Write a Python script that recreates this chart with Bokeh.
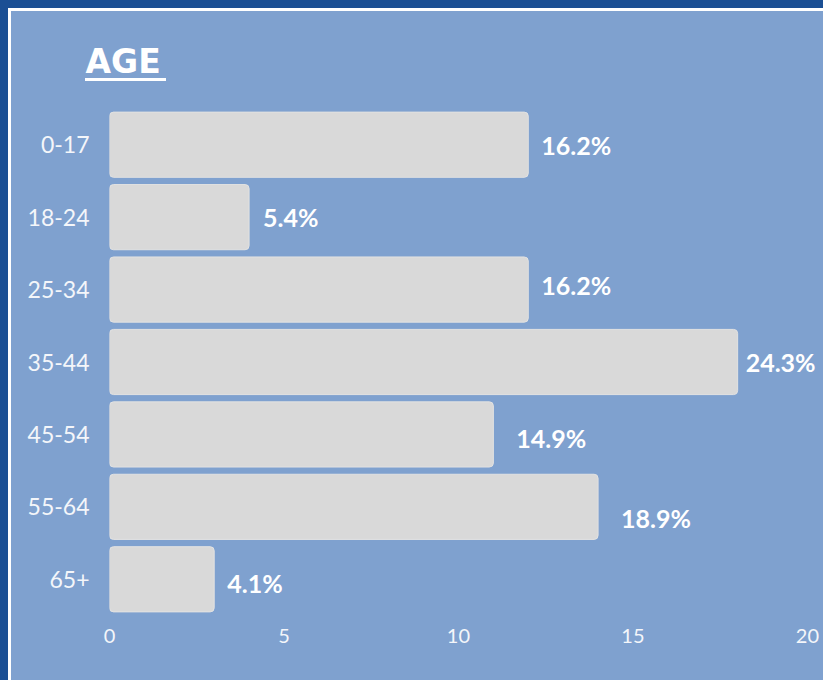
from bokeh.plotting import figure
from bokeh.models import (ColumnDataSource, FactorRange, Range1d, FixedTicker,
                          GlobalInlineStyleSheet)
from bokeh.core.properties import value
from bokeh.embed import file_html
from bokeh.resources import INLINE

# ---- data ----
age_groups = ["0-17", "18-24", "25-34", "35-44", "45-54", "55-64", "65+"]
counts = [12, 4, 12, 18, 11, 14, 3]
pct_labels = ["16.2%", "5.4%", "16.2%", "24.3%", "14.9%", "18.9%", "4.1%"]
x_ticks = [0, 5, 10, 15, 20]

# ---- styling (label nudges in pixels) ----
label_dx = [13, 14, 13, 8, 23, 23, 13]
label_dy = [0, 0, -5, 0, 4, 11, 4]

BG = "#7fa1cf"
DARK = "#1b4f94"
BAR = "#d9d9d9"
FONT = "Lato"

src = ColumnDataSource(dict(age=age_groups, count=counts, lab=pct_labels,
                            dx=label_dx, dy=label_dy))

p = figure(width=812, height=669, output_backend="svg", toolbar_location=None,
           y_range=FactorRange(factors=age_groups[::-1], range_padding=0),
           x_range=Range1d(0, 20.46),
           min_border_left=98, min_border_right=0, min_border_top=97, min_border_bottom=65)

p.background_fill_color = None
p.border_fill_color = None
p.outline_line_color = None
p.grid.grid_line_color = None
p.styles = {"background-color": BG}

p.hbar(y="age", right="count", left=0, height=0.9, source=src,
       fill_color=BAR, line_color="#e2e2e2", line_width=1, border_radius=4)

p.text(x="count", y="age", text="lab", source=src, x_offset="dx", y_offset="dy",
       text_font=value(FONT), text_font_style="bold", text_font_size="25px",
       text_color="white", text_baseline="middle", text_align="left")

# axes
p.xaxis.ticker = FixedTicker(ticks=x_ticks)
p.xaxis.axis_line_color = None
p.xaxis.major_tick_line_color = None
p.xaxis.minor_tick_line_color = None
p.xaxis.major_tick_out = 0
p.xaxis.major_label_standoff = 13
p.xaxis.major_label_text_font = FONT
p.xaxis.major_label_text_font_size = "20px"
p.xaxis.major_label_text_color = "#f4f6fa"

p.yaxis.axis_line_color = None
p.yaxis.major_tick_line_color = None
p.yaxis.major_tick_out = 0
p.yaxis.major_label_standoff = 20
p.yaxis.major_label_text_font = FONT
p.yaxis.major_label_text_font_size = "23px"
p.yaxis.major_label_text_color = "#f4f6fa"

# title
p.title.text = "AGE"
p.title.align = "left"
p.title.offset = -24
p.title.standoff = 56
p.title.text_font = "DejaVu Sans"
p.title.text_font_style = "bold"
p.title.text_font_size = "33px"
p.title.text_color = "white"

# page frame (dark border + thin white rule) and the title underline
p.stylesheets = [GlobalInlineStyleSheet(
    css=(f"html{{background:{DARK};}} body{{background:{DARK}; margin:8px 0 0 8px; padding:0;"
         " border-top:3px solid white; border-left:3px solid white; overflow:hidden;}"
         " body::after{content:''; position:absolute; left:85px; top:78px; width:81px;"
         " height:3px; background:white; z-index:10;}"))]

open("out.html", "w").write(file_html(p, INLINE))
